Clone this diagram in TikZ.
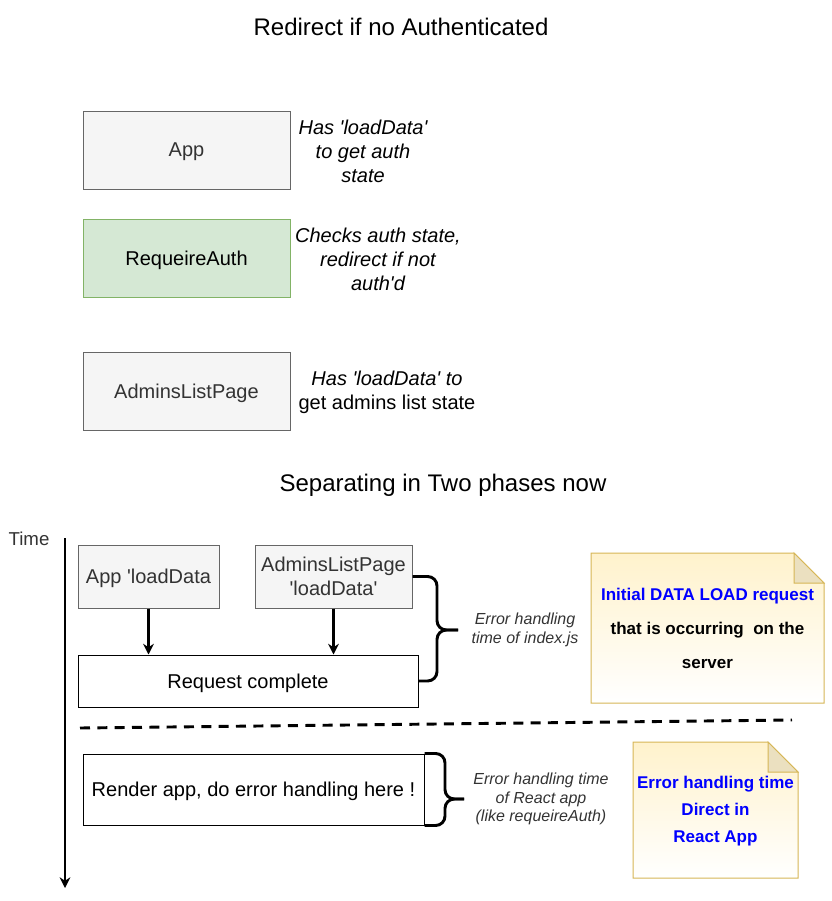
\documentclass[tikz,border=0pt]{standalone}
\usepackage{fontspec}
\setmainfont{Liberation Sans}
\usetikzlibrary{arrows.meta}
\definecolor{boxgray}{HTML}{F5F5F5}
\definecolor{bordgray}{HTML}{666666}
\definecolor{txtgray}{HTML}{333333}
\definecolor{boxgreen}{HTML}{D5E8D4}
\definecolor{bordgreen}{HTML}{82B366}
\definecolor{noteyel}{HTML}{FFF2CC}
\definecolor{notebord}{HTML}{D6B656}
\definecolor{notefold}{HTML}{EBE0C0}
\newcommand{\qt}{\textquotesingle}
\begin{document}
\begin{tikzpicture}[x=.75pt,y=-.75pt,>={Stealth[length=8pt,width=8pt]},line width=.75pt,
    tbox/.style={draw,inner sep=0pt,text depth=0pt,font=\fontsize{15}{18}\selectfont},
    gbox/.style={tbox,draw=bordgray,fill=boxgray,text=txtgray},
    ann/.style={align=center,font=\fontsize{15}{18}\selectfont},
    iann/.style={align=center,font=\fontsize{15}{18}\selectfont\itshape},
    sann/.style={align=center,text=txtgray,font=\fontsize{12}{14}\selectfont\itshape},
    brace/.style={line width=2.2pt,rounded corners=7pt},
    note/.style={draw=notebord,top color=noteyel,bottom color=white,line width=.75pt},
    notetext/.style={align=center,text=blue,font=\bfseries\fontsize{12.75}{#1}\selectfont}]
  \useasboundingbox (0,0) rectangle (832,901);
  \node[font=\fontsize{18}{22}\selectfont] (title1) at (401,27) {Redirect if no Authenticated};
  \node[gbox,minimum width=155.25pt,minimum height=58.5pt] (app) at (186.5,150) {App};
  \node[tbox,draw=bordgreen,fill=boxgreen,minimum width=155.25pt,minimum height=58.5pt] (reqauth) at (186.5,258) {RequeireAuth};
  \node[gbox,minimum width=155.25pt,minimum height=58.5pt] (admins) at (186.5,391) {AdminsListPage};
  \node[iann] (appnote) at (363,151) {Has \qt loadData\qt\\to get auth\\state};
  \node[iann] (authnote) at (378,259) {Checks auth state,\\redirect if not\\auth\qt d};
  \node[ann] (adminsnote) at (387,392) {\textit{Has \qt loadData\qt\ to}\\get admins list state};

  \node[font=\fontsize{18}{22}\selectfont] (title2) at (443,485) {Separating in Two phases now};
  \node[font=\fontsize{14}{17}\selectfont,text=txtgray] (time) at (29,539) {Time};
  \coordinate (tstart) at (65,538);
  \coordinate (tend) at (65,888);
  \draw[->,line width=2pt] (tstart) -- (tend);

  \node[gbox,minimum width=105.75pt,minimum height=47.25pt] (appload) at (148.5,576.5) {App \qt loadData};
  \node[gbox,align=center,minimum width=117.75pt,minimum height=47.25pt] (adminsload) at (333.5,576.5) {AdminsListPage\\\qt loadData\qt};
  \node[tbox,minimum width=255pt,minimum height=39pt] (reqdone) at (248,681) {Request complete};
  \draw[->,line width=2pt] (appload) -- (appload |- reqdone.north);
  \draw[->,line width=2pt] (adminsload) -- (adminsload |- reqdone.north);

  \coordinate (b1) at (437,630);
  \coordinate (b1tip) at (458,630);
  \draw[brace] (adminsload.east) -| (b1) -- (b1tip);
  \draw[brace] (reqdone.east) -| (b1) -- (b1tip);
  \node[sann] (idxnote) at (525,630) {Error handling\\time of index.js};

  \path[note] (591,553) -- (794,553) -- (824,583) -- (824,703) -- (591,703) -- cycle;
  \draw[notebord,fill=notefold] (794,553) -- (794,583) -- (824,583) -- cycle;
  \node[notetext=25.5pt] (servertext) at (707.5,628) {Initial DATA LOAD request\\\textcolor{black}{that is occurring\ \ on the}\\\textcolor{black}{server}};

  \coordinate (sepL) at (80,728);
  \coordinate (sepR) at (792,720);
  \draw[line width=2.2pt,dash pattern=on 7.5pt off 5.5pt] (sepL) -- (sepR);

  \node[tbox,minimum width=255.75pt,minimum height=53.25pt] (render) at (253.5,789.5) {Render app, do error handling here !};
  \coordinate (b2) at (445,799);
  \coordinate (b2tip) at (464,799);
  \draw[brace] (render.north east) -| (b2) -- (b2tip);
  \draw[brace] (render.south east) -| (b2) -- (b2tip);
  \node[sann] (reactnote) at (541,799) {Error handling time\\of React app\\ (like requeireAuth)};

  \path[note] (633,742) -- (768,742) -- (798,772) -- (798,878) -- (633,878) -- cycle;
  \draw[notebord,fill=notefold] (768,742) -- (768,772) -- (798,772) -- cycle;
  \node[notetext=20.25pt] (reacttext) at (715.5,811) {Error handling time\\Direct in\\React App};
\end{tikzpicture}
\end{document}
